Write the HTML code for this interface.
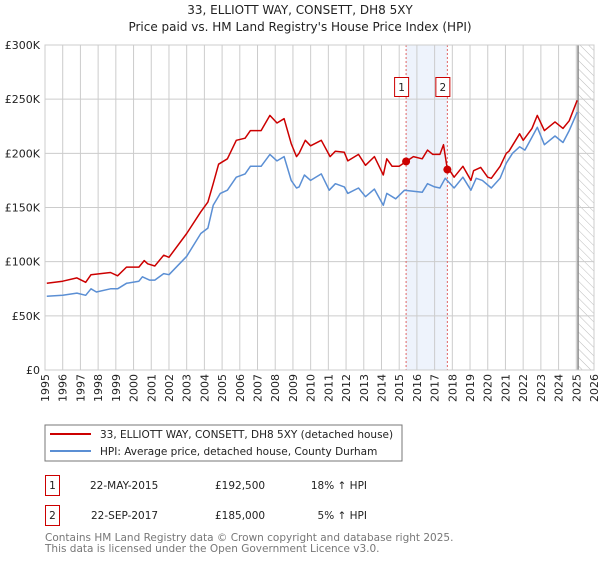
<!DOCTYPE html>
<html><head><meta charset="utf-8"><style>
body{margin:0;background:#fff;font-family:"DejaVu Sans","Liberation Sans",sans-serif;}
svg text{font-family:"DejaVu Sans","Liberation Sans",sans-serif;}
</style></head><body>
<svg id="c" width="600" height="560" xmlns="http://www.w3.org/2000/svg">
<defs><pattern id="hatch" width="6" height="6" patternUnits="userSpaceOnUse" patternTransform="rotate(-45)"><line x1="0" y1="0" x2="0" y2="6" stroke="#bbb" stroke-width="1"/></pattern></defs>
<text x="300" y="14" text-anchor="middle" font-size="12" fill="#222">33, ELLIOTT WAY, CONSETT, DH8 5XY</text>
<text x="300" y="31" text-anchor="middle" font-size="12" fill="#222">Price paid vs. HM Land Registry's House Price Index (HPI)</text>
<g id="plot"></g>
<rect x="45" y="425" width="357" height="36" fill="#fff" stroke="#777"/>
<line x1="50" y1="434" x2="91" y2="434" stroke="#cc0000" stroke-width="2"/>
<text x="100" y="438" font-size="10.5" fill="#222">33, ELLIOTT WAY, CONSETT, DH8 5XY (detached house)</text>
<line x1="50" y1="451" x2="91" y2="451" stroke="#5b8fd4" stroke-width="2"/>
<text x="100" y="455" font-size="10.5" fill="#222">HPI: Average price, detached house, County Durham</text>
<g font-size="10.5" fill="#222">
<rect x="45.5" y="475.5" width="14" height="20" fill="#fff" stroke="#cc0000"/>
<text x="52.5" y="489" text-anchor="middle">1</text>
<text x="90" y="489">22-MAY-2015</text>
<text x="215" y="489">£192,500</text>
<text x="367" y="489" text-anchor="end">18% ↑ HPI</text>
<rect x="45.5" y="505.5" width="14" height="20" fill="#fff" stroke="#cc0000"/>
<text x="52.5" y="519" text-anchor="middle">2</text>
<text x="91" y="519">22-SEP-2017</text>
<text x="215" y="519">£185,000</text>
<text x="367" y="519" text-anchor="end">5% ↑ HPI</text>
</g>
<text x="45" y="541" font-size="10.5" fill="#777">Contains HM Land Registry data © Crown copyright and database right 2025.</text>
<text x="45" y="552" font-size="10.5" fill="#777">This data is licensed under the Open Government Licence v3.0.</text>
</svg>
<script>
const redYears=[1995.1,1996,1996.8,1997.3,1997.6,1998.7,1999.1,1999.6,2000.3,2000.6,2000.8,2001.2,2001.7,2002,2003,2003.8,2004.2,2004.5,2004.8,2005.3,2005.8,2006.3,2006.6,2007.2,2007.7,2008.1,2008.5,2008.9,2009.2,2009.35,2009.7,2010,2010.6,2011.1,2011.4,2011.9,2012.1,2012.7,2013.1,2013.6,2014.1,2014.3,2014.6,2015,2015.39,2015.8,2016.3,2016.6,2016.9,2017.3,2017.5,2017.72,2017.9,2018.1,2018.6,2019.05,2019.2,2019.6,2020,2020.2,2020.7,2021.05,2021.2,2021.8,2022,2022.5,2022.8,2023.2,2023.8,2024.25,2024.6,2025.05];
const redValues=[80,82,85,81,88,90,87,95,95,101,98,96,106,104,126,146,155,172,190,195,212,214,221,221,235,228,232,209,197,200,212,207,212,197,202,201,193,199,189,197,180,195,188,188,192.5,197,195,203,199,199,208,185,183,178,188,175,184,187,178,177,188,200,202,218,212,223,235,221,229,223,230,249];
const hpiYears=[1995.1,1996,1996.8,1997.3,1997.6,1997.9,1998.7,1999.1,1999.6,2000.3,2000.5,2000.9,2001.2,2001.7,2002,2003,2003.8,2004.2,2004.5,2004.9,2005.3,2005.8,2006.3,2006.6,2007.2,2007.7,2008.1,2008.5,2008.9,2009.2,2009.35,2009.65,2010,2010.6,2011.05,2011.4,2011.9,2012.1,2012.7,2013.1,2013.6,2014.1,2014.3,2014.8,2015.3,2016.3,2016.6,2017,2017.3,2017.6,2018.1,2018.6,2019.05,2019.35,2019.7,2020.2,2020.7,2021.05,2021.4,2021.8,2022.1,2022.5,2022.8,2023.2,2023.8,2024.25,2024.6,2025.05];
const hpiValues=[68,69,71,69,75,72,75,75,80,82,86,83,83,89,88,105,126,131,152,163,166,178,181,188,188,199,193,197,175,168,169,180,175,181,166,172,169,163,168,160,167,152,163,158,166,164,172,169,168,177,168,178,166,177,175,168,177,191,200,206,203,215,224,208,216,210,221,238];
const saleYears=[2015.39,2017.72];
const saleValues=[192.5,185];
const yTicks=[0,50,100,150,200,250,300];
const yTickLabels=["£0","£50K","£100K","£150K","£200K","£250K","£300K"];
const xTicks=[1995,1996,1997,1998,1999,2000,2001,2002,2003,2004,2005,2006,2007,2008,2009,2010,2011,2012,2013,2014,2015,2016,2017,2018,2019,2020,2021,2022,2023,2024,2025,2026];

const L=45,R=594,T=45,B=370,NS="http://www.w3.org/2000/svg";
const X=y=>L+(y-1995)/(2026-1995)*(R-L);
const Y=v=>B-v/300*(B-T);
const g=document.getElementById('plot');
function mk(t,a,p){const e=document.createElementNS(NS,t);for(const k in a)e.setAttribute(k,a[k]);(p||g).appendChild(e);return e;}

const band=mk('rect',{x:X(saleYears[0]),y:T,width:X(saleYears[1])-X(saleYears[0]),height:B-T,fill:'#eef3fc'});


const hz=mk('rect',{x:X(2025.1),y:T,width:R-X(2025.1),height:B-T,fill:'url(#hatch)'});


yTicks.forEach((v,i)=>{
  const l=mk('line',{x1:L,x2:R,y1:Y(v),y2:Y(v),stroke:'#ccc','stroke-width':1});
  
  
  const t=mk('text',{x:40,y:Y(v)+4,'text-anchor':'end','font-size':11,fill:'#222'});
  t.textContent=yTickLabels[i];
  
  
});
xTicks.forEach(y=>{
  const l=mk('line',{x1:X(y),x2:X(y),y1:T,y2:B,stroke:'#ccc','stroke-width':1});
  
  
  const t=mk('text',{x:0,y:0,'text-anchor':'end','font-size':11,fill:'#222',transform:`translate(${X(y)+4},374) rotate(-90)`});
  t.textContent=y;
  
  
});
const vl=mk('line',{x1:X(2025.1),x2:X(2025.1),y1:T,y2:B,stroke:'#888','stroke-width':1.5});


saleYears.forEach((y,i)=>{
  const d=mk('line',{x1:X(y),x2:X(y),y1:T,y2:B,stroke:'#e06666','stroke-width':1,'stroke-dasharray':'2,2'});
  
  
});
function path(xs,vs,c,name){
  const p=mk('path',{d:xs.map((x,i)=>(i?'L':'M')+X(x).toFixed(1)+','+Y(vs[i]).toFixed(1)).join(''),fill:'none',stroke:c,'stroke-width':1.5,'stroke-linejoin':'round'});
  
  
}
path(hpiYears,hpiValues,'#5b8fd4','hpi-line');
path(redYears,redValues,'#cc0000','property-line');
saleYears.forEach((y,i)=>{
  const c=mk('circle',{cx:X(y),cy:Y(saleValues[i]),r:4,fill:'#cc0000'});
  
  
  const b=mk('rect',{x:X(y)-11.5,y:77.5,width:14,height:19,fill:'#fff',stroke:'#cc0000'});
  
  
  const t=mk('text',{x:X(y)-4.5,y:91,'text-anchor':'middle','font-size':10.5,fill:'#222'});
  t.textContent=i+1;
  
  
});
const fr=mk('rect',{x:L,y:T,width:R-L,height:B-T,fill:'none',stroke:'#ccc'});


</script>
</body></html>
